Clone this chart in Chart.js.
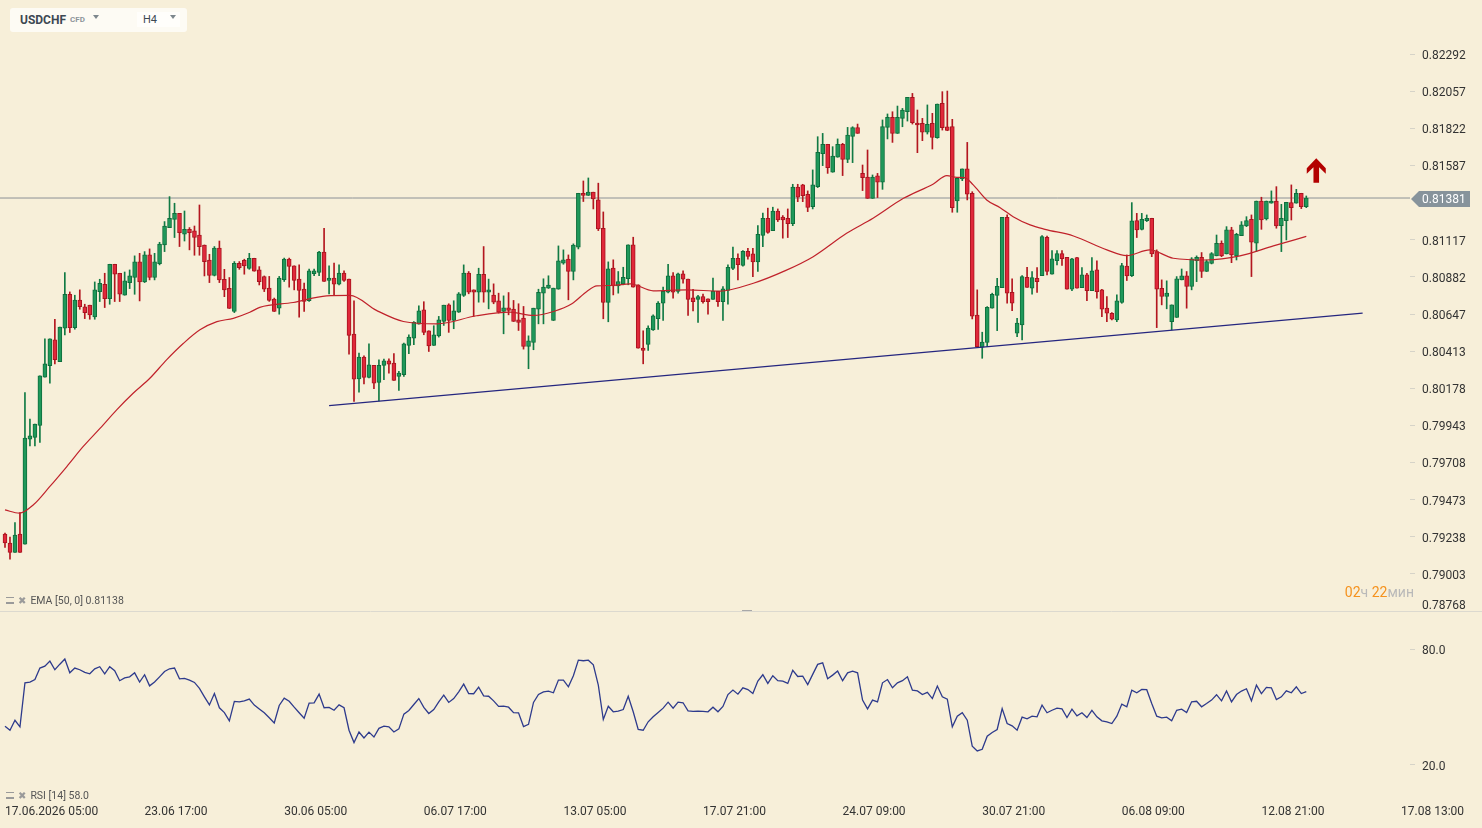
<!DOCTYPE html>
<html>
<head>
<meta charset="utf-8">
<title>USDCHF H4</title>
<script src="https://cdn.jsdelivr.net/npm/chart.js@4.4.1/dist/chart.umd.min.js"></script>
<style>
  html, body { margin: 0; padding: 0; background: #f7efd9; }
  #wrap { position: relative; width: 1482px; height: 828px; overflow: hidden; font-family: Roboto, "Noto Sans", sans-serif; }
  #chart { position: absolute; left: 0; top: 0; }
  .symbox { position: absolute; left: 10px; top: 8px; width: 177px; height: 24px; background: #fdfbf4; border-radius: 3px; }
  .sym { position: absolute; left: 10px; top: 4px; font-size: 12px; font-weight: 700; color: #3d4852; line-height: 16px; }
  .cfd { position: absolute; left: 60px; top: 7px; font-size: 8px; font-weight: 700; color: #8d959b; line-height: 10px; }
  .tri { position: absolute; width: 0; height: 0; border-left: 3.5px solid transparent; border-right: 3.5px solid transparent; border-top: 4px solid #7d878d; }
  .tf { position: absolute; left: 127px; top: 4px; width: 43px; height: 15px; background: #fffefb; }
  .tf span { position: absolute; left: 6px; top: 1px; font-size: 11px; color: #3d4852; line-height: 14px; }
  .leg { position: absolute; left: 6px; height: 12px; display: flex; align-items: center; font-size: 10.5px; color: #555; }
  .ico { display: inline-block; width: 8px; height: 4px; border-top: 1px solid #9a9a9a; border-bottom: 2px solid #9a9a9a; margin-right: 4px; }
  .cls { font-family: "DejaVu Sans", sans-serif; font-size: 10px; color: #9a9a9a; margin-right: 4px; }
  .timer { position: absolute; right: 68px; top: 584px; font-size: 14px; line-height: 16px; }
  .timer .n { color: #f5921e; }
  .timer .u { color: #b9b9b9; }
</style>
</head>
<body>
<div id="wrap">
  <canvas id="chart" width="1482" height="828"></canvas>
  <div class="symbox">
    <span class="sym">USDCHF</span><span class="cfd">CFD</span>
    <span class="tri" style="left:83px;top:7px"></span>
    <div class="tf"><span>H4</span></div>
    <span class="tri" style="left:160px;top:7px"></span>
  </div>
  <div class="leg" id="legEma" style="top:594px"></div>
  <div class="leg" id="legRsi" style="top:789px"></div>
  <div class="timer"><span class="n">02</span><span class="u">ч </span><span class="n">22</span><span class="u">мин</span></div>
</div>
<script>
// H4 candles, index 0 = 17.06.2026 05:00
const opens = [
  0.79254, 0.79198, 0.79139, 0.79254, 0.79191, 0.79855, 0.79866, 0.79942, 0.80247, 0.80321,
  0.80483, 0.80346, 0.80557, 0.80772, 0.80561, 0.80736, 0.80692, 0.80703, 0.80629, 0.80789,
  0.80835, 0.80745, 0.80962, 0.80905, 0.80766, 0.80846, 0.80878, 0.80977, 0.80850, 0.81021,
  0.80878, 0.80966, 0.81084, 0.81194, 0.81246, 0.81284, 0.81152, 0.81183, 0.81173, 0.81147,
  0.81084, 0.80989, 0.80892, 0.81065, 0.80867, 0.80810, 0.80663, 0.80968, 0.80987, 0.80935,
  0.81000, 0.80926, 0.80884, 0.80811, 0.80741, 0.80684, 0.80864, 0.80994, 0.80952, 0.80868,
  0.80805, 0.80731, 0.80902, 0.80910, 0.81039, 0.80860, 0.80874, 0.80836, 0.80906, 0.80868,
  0.80520, 0.80237, 0.80374, 0.80246, 0.80322, 0.80214, 0.80322, 0.80351, 0.80337, 0.80252,
  0.80263, 0.80448, 0.80495, 0.80583, 0.80674, 0.80541, 0.80448, 0.80509, 0.80600, 0.80705,
  0.80606, 0.80659, 0.80765, 0.80906, 0.80800, 0.80786, 0.80899, 0.80786, 0.80767, 0.80731,
  0.80663, 0.80687, 0.80678, 0.80611, 0.80621, 0.80442, 0.80467, 0.80678, 0.80779, 0.80811,
  0.80606, 0.80804, 0.80969, 0.80994, 0.80916, 0.81070, 0.81411, 0.81397, 0.81418, 0.81369,
  0.81190, 0.80720, 0.80937, 0.80825, 0.80838, 0.80870, 0.81085, 0.80832, 0.80431, 0.80454,
  0.80547, 0.80617, 0.80716, 0.80785, 0.80889, 0.80790, 0.80901, 0.80868, 0.80750, 0.80739,
  0.80758, 0.80743, 0.80739, 0.80790, 0.80726, 0.80796, 0.80935, 0.81000, 0.80954, 0.81043,
  0.81028, 0.80977, 0.81144, 0.81253, 0.81175, 0.81298, 0.81260, 0.81253, 0.81219, 0.81451,
  0.81464, 0.81405, 0.81327, 0.81453, 0.81662, 0.81721, 0.81544, 0.81639, 0.81721, 0.81626,
  0.81771, 0.81826, 0.81537, 0.81514, 0.81379, 0.81521, 0.81481, 0.81828, 0.81891, 0.81790,
  0.81885, 0.81927, 0.82018, 0.81856, 0.81854, 0.81797, 0.81854, 0.81763, 0.81980, 0.81832,
  0.81833, 0.81362, 0.81502, 0.81565, 0.81411, 0.80641, 0.80437, 0.80467, 0.80684, 0.80764,
  0.80814, 0.81259, 0.80785, 0.80526, 0.80578, 0.80880, 0.80810, 0.80873, 0.80890, 0.81133,
  0.80899, 0.80985, 0.81030, 0.81006, 0.80804, 0.81004, 0.80814, 0.80895, 0.80795, 0.80926,
  0.80800, 0.80684, 0.80652, 0.80610, 0.80720, 0.80951, 0.80890, 0.81238, 0.81183, 0.81238,
  0.81253, 0.81042, 0.80810, 0.80758, 0.80599, 0.80625, 0.80863, 0.80888, 0.80821, 0.80985,
  0.81006, 0.80916, 0.80968, 0.81015, 0.81095, 0.81027, 0.81179, 0.81015, 0.81143, 0.81204,
  0.81247, 0.81095, 0.81362, 0.81249, 0.81348, 0.81362, 0.81206, 0.81238, 0.81352, 0.81348,
  0.81411, 0.81327
];
const highs = [
  0.79261, 0.79236, 0.79328, 0.79391, 0.80150, 0.79982, 0.79950, 0.80256, 0.80490, 0.80490,
  0.80614, 0.80564, 0.80909, 0.80787, 0.80766, 0.80800, 0.80709, 0.80703, 0.80850, 0.80867,
  0.80905, 0.80962, 0.80962, 0.80905, 0.80913, 0.80926, 0.81015, 0.81031, 0.81042, 0.81059,
  0.81031, 0.81101, 0.81232, 0.81390, 0.81348, 0.81284, 0.81299, 0.81194, 0.81204, 0.81337,
  0.81084, 0.81025, 0.81074, 0.81109, 0.80930, 0.80878, 0.80979, 0.80979, 0.80994, 0.81031,
  0.81000, 0.80947, 0.80888, 0.80885, 0.80748, 0.80885, 0.81001, 0.81001, 0.80952, 0.80958,
  0.80843, 0.80931, 0.80931, 0.81043, 0.81190, 0.80952, 0.80969, 0.80958, 0.80921, 0.80868,
  0.80731, 0.80400, 0.80383, 0.80459, 0.80322, 0.80358, 0.80362, 0.80364, 0.80396, 0.80284,
  0.80463, 0.80516, 0.80600, 0.80699, 0.80725, 0.80541, 0.80573, 0.80632, 0.80703, 0.80712,
  0.80731, 0.80783, 0.80958, 0.80916, 0.80800, 0.80937, 0.81074, 0.80868, 0.80838, 0.80779,
  0.80762, 0.80783, 0.80733, 0.80712, 0.80695, 0.80509, 0.80684, 0.80804, 0.80870, 0.80889,
  0.80811, 0.81078, 0.81053, 0.81021, 0.81091, 0.81411, 0.81489, 0.81508, 0.81418, 0.81475,
  0.81293, 0.80977, 0.80990, 0.80916, 0.80943, 0.81085, 0.81133, 0.80832, 0.80541, 0.80572,
  0.80642, 0.80726, 0.80817, 0.80962, 0.80910, 0.80906, 0.80920, 0.80868, 0.80804, 0.80766,
  0.80773, 0.80743, 0.80874, 0.80790, 0.80821, 0.80958, 0.81070, 0.81028, 0.81049, 0.81063,
  0.81063, 0.81207, 0.81285, 0.81317, 0.81323, 0.81312, 0.81270, 0.81312, 0.81468, 0.81468,
  0.81468, 0.81426, 0.81559, 0.81769, 0.81790, 0.81721, 0.81706, 0.81755, 0.81727, 0.81828,
  0.81832, 0.81849, 0.81590, 0.81685, 0.81527, 0.81537, 0.81875, 0.81913, 0.81927, 0.81963,
  0.81948, 0.82018, 0.82043, 0.81938, 0.81885, 0.81970, 0.81917, 0.81976, 0.82054, 0.82058,
  0.81879, 0.81510, 0.81565, 0.81733, 0.81421, 0.80800, 0.80532, 0.80694, 0.80779, 0.80873,
  0.81259, 0.81274, 0.80869, 0.80620, 0.80890, 0.80943, 0.80916, 0.80941, 0.81143, 0.81141,
  0.81049, 0.81049, 0.81049, 0.81006, 0.81000, 0.81006, 0.80941, 0.80905, 0.81004, 0.80983,
  0.80804, 0.80758, 0.80656, 0.80768, 0.80968, 0.81021, 0.81352, 0.81284, 0.81284, 0.81274,
  0.81253, 0.81053, 0.80863, 0.80857, 0.80705, 0.80884, 0.80932, 0.80916, 0.81004, 0.81015,
  0.81036, 0.80989, 0.81036, 0.81147, 0.81110, 0.81200, 0.81196, 0.81158, 0.81232, 0.81263,
  0.81274, 0.81362, 0.81386, 0.81362, 0.81426, 0.81453, 0.81341, 0.81354, 0.81464, 0.81436,
  0.81411, 0.81394
];
const lows = [
  0.79170, 0.79096, 0.79139, 0.79139, 0.79191, 0.79813, 0.79813, 0.79834, 0.80247, 0.80209,
  0.80332, 0.80346, 0.80515, 0.80530, 0.80551, 0.80677, 0.80618, 0.80614, 0.80614, 0.80726,
  0.80688, 0.80709, 0.80726, 0.80726, 0.80766, 0.80808, 0.80772, 0.80730, 0.80846, 0.80863,
  0.80863, 0.80958, 0.81042, 0.81194, 0.81131, 0.81074, 0.81109, 0.81053, 0.81019, 0.81019,
  0.80888, 0.80846, 0.80888, 0.80846, 0.80757, 0.80682, 0.80656, 0.80930, 0.80899, 0.80930,
  0.80918, 0.80831, 0.80789, 0.80727, 0.80663, 0.80646, 0.80853, 0.80817, 0.80800, 0.80627,
  0.80663, 0.80727, 0.80889, 0.80889, 0.80853, 0.80775, 0.80769, 0.80832, 0.80853, 0.80393,
  0.80094, 0.80153, 0.80205, 0.80242, 0.80174, 0.80098, 0.80231, 0.80273, 0.80227, 0.80164,
  0.80252, 0.80396, 0.80453, 0.80583, 0.80516, 0.80410, 0.80448, 0.80501, 0.80575, 0.80531,
  0.80554, 0.80657, 0.80758, 0.80775, 0.80632, 0.80722, 0.80722, 0.80680, 0.80712, 0.80653,
  0.80522, 0.80642, 0.80600, 0.80543, 0.80425, 0.80301, 0.80421, 0.80585, 0.80585, 0.80809,
  0.80606, 0.80804, 0.80962, 0.80737, 0.80863, 0.81059, 0.81359, 0.81397, 0.81312, 0.81175,
  0.80617, 0.80598, 0.80768, 0.80779, 0.80832, 0.80832, 0.80817, 0.80431, 0.80332, 0.80416,
  0.80543, 0.80549, 0.80606, 0.80781, 0.80747, 0.80779, 0.80842, 0.80638, 0.80667, 0.80594,
  0.80716, 0.80646, 0.80739, 0.80695, 0.80606, 0.80709, 0.80927, 0.80863, 0.80950, 0.80994,
  0.80884, 0.80916, 0.81074, 0.81158, 0.81175, 0.81232, 0.81127, 0.81131, 0.81206, 0.81358,
  0.81358, 0.81295, 0.81312, 0.81447, 0.81586, 0.81537, 0.81544, 0.81639, 0.81523, 0.81605,
  0.81605, 0.81790, 0.81428, 0.81379, 0.81379, 0.81384, 0.81436, 0.81755, 0.81733, 0.81790,
  0.81832, 0.81868, 0.81849, 0.81668, 0.81744, 0.81786, 0.81691, 0.81759, 0.81811, 0.81807,
  0.81291, 0.81291, 0.81491, 0.81369, 0.80616, 0.80441, 0.80367, 0.80441, 0.80684, 0.80542,
  0.80814, 0.80715, 0.80669, 0.80504, 0.80483, 0.80816, 0.80772, 0.80783, 0.80890, 0.80895,
  0.80899, 0.80958, 0.80954, 0.80804, 0.80795, 0.80810, 0.80814, 0.80732, 0.80795, 0.80747,
  0.80631, 0.80599, 0.80610, 0.80599, 0.80715, 0.80859, 0.80884, 0.81131, 0.81179, 0.81232,
  0.81010, 0.80561, 0.80705, 0.80680, 0.80547, 0.80625, 0.80863, 0.80684, 0.80800, 0.80852,
  0.80878, 0.80916, 0.80964, 0.81015, 0.81010, 0.81027, 0.80972, 0.80989, 0.81143, 0.81200,
  0.80884, 0.81042, 0.81183, 0.81242, 0.81348, 0.81190, 0.81042, 0.81116, 0.81242, 0.81348,
  0.81314, 0.81320
];
const closes = [
  0.79198, 0.79139, 0.79248, 0.79139, 0.79862, 0.79876, 0.79950, 0.80256, 0.80332, 0.80490,
  0.80359, 0.80564, 0.80772, 0.80561, 0.80736, 0.80694, 0.80656, 0.80641, 0.80800, 0.80842,
  0.80745, 0.80962, 0.80899, 0.80772, 0.80857, 0.80888, 0.80977, 0.80850, 0.81021, 0.80878,
  0.80977, 0.81090, 0.81204, 0.81253, 0.81284, 0.81162, 0.81183, 0.81162, 0.81131, 0.81074,
  0.80979, 0.80892, 0.81065, 0.80863, 0.80800, 0.80682, 0.80968, 0.80941, 0.80951, 0.81000,
  0.80918, 0.80852, 0.80804, 0.80733, 0.80663, 0.80874, 0.80994, 0.80948, 0.80860, 0.80796,
  0.80727, 0.80921, 0.80921, 0.81039, 0.80853, 0.80874, 0.80836, 0.80906, 0.80860, 0.80512,
  0.80235, 0.80374, 0.80246, 0.80326, 0.80210, 0.80322, 0.80351, 0.80330, 0.80227, 0.80273,
  0.80459, 0.80501, 0.80594, 0.80668, 0.80531, 0.80446, 0.80516, 0.80611, 0.80703, 0.80606,
  0.80668, 0.80775, 0.80906, 0.80786, 0.80786, 0.80899, 0.80786, 0.80800, 0.80722, 0.80659,
  0.80687, 0.80670, 0.80600, 0.80594, 0.80442, 0.80478, 0.80684, 0.80785, 0.80817, 0.80830,
  0.80811, 0.80984, 0.80990, 0.80916, 0.81083, 0.81411, 0.81397, 0.81418, 0.81376, 0.81186,
  0.80720, 0.80933, 0.80825, 0.80853, 0.80880, 0.81085, 0.80817, 0.80431, 0.80416, 0.80558,
  0.80636, 0.80716, 0.80790, 0.80889, 0.80785, 0.80901, 0.80868, 0.80739, 0.80726, 0.80758,
  0.80726, 0.80726, 0.80792, 0.80726, 0.80807, 0.80943, 0.81000, 0.80960, 0.81043, 0.81011,
  0.80977, 0.81152, 0.81253, 0.81163, 0.81298, 0.81243, 0.81243, 0.81219, 0.81451, 0.81386,
  0.81396, 0.81322, 0.81464, 0.81670, 0.81721, 0.81573, 0.81647, 0.81721, 0.81626, 0.81780,
  0.81826, 0.81790, 0.81510, 0.81379, 0.81514, 0.81481, 0.81833, 0.81891, 0.81790, 0.81891,
  0.81938, 0.82018, 0.81858, 0.81843, 0.81797, 0.81847, 0.81765, 0.81976, 0.81826, 0.81809,
  0.81320, 0.81506, 0.81565, 0.81405, 0.80633, 0.80441, 0.80469, 0.80690, 0.80772, 0.80823,
  0.81259, 0.80779, 0.80715, 0.80589, 0.80884, 0.80816, 0.80878, 0.80852, 0.81137, 0.80916,
  0.80996, 0.81030, 0.80998, 0.80804, 0.80996, 0.80810, 0.80895, 0.80795, 0.80920, 0.80789,
  0.80677, 0.80652, 0.80614, 0.80730, 0.80954, 0.80888, 0.81236, 0.81179, 0.81247, 0.81253,
  0.81027, 0.80804, 0.80758, 0.80779, 0.80705, 0.80869, 0.80888, 0.80821, 0.80996, 0.81006,
  0.80916, 0.80979, 0.81030, 0.81095, 0.81015, 0.81179, 0.81021, 0.81152, 0.81211, 0.81238,
  0.81101, 0.81362, 0.81242, 0.81362, 0.81362, 0.81204, 0.81253, 0.81354, 0.81320, 0.81411,
  0.81327, 0.81381
];

// EMA(50) at sparse candle positions
const emaX = [0, 2.9, 5.7, 9.0, 12.4, 15.7, 19.1, 22.4, 25.7, 29.1, 32.4, 35.8, 39.1, 42.5, 45.8, 49.1,
  51.1, 57.8, 64.5, 69.2, 74.5, 79.9, 86.6, 94.6, 101.3, 106, 110, 113.7, 116.7, 118.7, 122, 125.4,
  130, 136.7, 143.4, 150.1, 156.4, 162.1, 168.8, 174.1, 180.2, 186.2, 188.9, 190.9, 192.5, 194.2,
  196.9, 199.6, 202.2, 205.6, 208.6, 214.3, 221, 225, 229.6, 234.3, 241, 247.7, 254.4, 261];
const emaY = [0.79408, 0.79387, 0.79440, 0.79556, 0.79682, 0.79809, 0.79925, 0.80041, 0.80146, 0.80242,
  0.80357, 0.80462, 0.80547, 0.80599, 0.80620, 0.80658, 0.80689, 0.80720, 0.80762, 0.80765, 0.80670,
  0.80600, 0.80585, 0.80636, 0.80659, 0.80638, 0.80663, 0.80712, 0.80790, 0.80825, 0.80828, 0.80838,
  0.80794, 0.80800, 0.80792, 0.80842, 0.80920, 0.81010, 0.81158, 0.81253, 0.81379, 0.81470, 0.81523,
  0.81512, 0.81510, 0.81464, 0.81369, 0.81320, 0.81263, 0.81211, 0.81183, 0.81141, 0.81053, 0.81017,
  0.81053, 0.81000, 0.80989, 0.81015, 0.81078, 0.81138];

// RSI(14), one value per candle
const rsiValues = [
  40.0, 37.9, 43.1, 39.7, 62.6, 63.0, 64.3, 70.3, 71.3, 73.9,
  69.4, 72.3, 75.0, 67.8, 70.3, 69.4, 68.0, 67.3, 69.9, 71.0,
  67.3, 71.0, 68.9, 63.7, 65.2, 65.7, 67.8, 63.0, 66.8, 61.0,
  63.0, 65.7, 68.5, 69.9, 70.3, 64.7, 64.9, 64.0, 62.8, 59.7,
  55.3, 51.1, 57.0, 49.6, 47.1, 42.8, 52.9, 52.7, 53.2, 54.1,
  51.0, 49.0, 47.0, 44.4, 41.7, 50.8, 54.6, 53.0, 49.9, 47.0,
  44.2, 52.0, 52.2, 56.7, 49.6, 49.8, 48.3, 51.1, 49.6, 37.9,
  31.5, 37.0, 33.9, 36.9, 34.4, 38.9, 40.0, 39.7, 37.0, 38.6,
  46.3, 48.2, 51.3, 54.4, 49.8, 46.6, 48.7, 52.7, 56.2, 52.4,
  54.4, 57.9, 61.9, 57.0, 56.9, 60.3, 55.8, 55.6, 53.2, 50.3,
  50.4, 49.9, 47.1, 47.0, 39.8, 41.0, 52.4, 56.5, 57.9, 58.3,
  57.4, 64.0, 64.0, 60.5, 66.3, 74.4, 74.1, 74.4, 72.0, 61.4,
  43.5, 50.4, 47.5, 47.8, 48.7, 55.6, 47.5, 38.3, 37.9, 42.3,
  44.9, 47.1, 49.4, 52.5, 49.4, 52.5, 52.2, 48.0, 47.7, 47.8,
  47.7, 47.5, 49.9, 47.5, 50.3, 56.5, 58.8, 56.7, 60.0, 59.1,
  57.0, 63.5, 66.8, 62.3, 66.3, 63.7, 63.5, 62.3, 69.1, 65.9,
  66.1, 61.7, 67.0, 72.2, 73.0, 64.7, 66.6, 68.7, 63.7, 67.8,
  68.7, 67.8, 53.6, 49.0, 53.6, 52.7, 62.6, 64.3, 60.0, 62.6,
  63.7, 65.7, 58.8, 58.4, 56.5, 57.6, 54.4, 60.9, 55.3, 54.1,
  39.7, 45.2, 47.0, 43.1, 29.6, 27.1, 28.0, 34.8, 36.7, 38.3,
  49.2, 41.4, 40.2, 37.9, 44.7, 43.8, 45.2, 44.9, 51.0, 47.0,
  48.3, 49.4, 49.0, 44.5, 48.9, 45.4, 47.0, 44.5, 48.3, 44.9,
  42.8, 42.3, 41.4, 45.2, 51.5, 50.1, 58.8, 57.4, 59.1, 59.0,
  51.8, 45.2, 44.3, 44.7, 42.8, 48.3, 48.9, 47.1, 52.7, 53.0,
  50.1, 51.8, 53.6, 56.4, 53.2, 58.3, 52.7, 56.5, 58.3, 59.5,
  53.2, 61.4, 57.0, 60.2, 60.0, 53.9, 55.3, 58.4, 57.4, 60.5,
  57.0, 58.0
];

// support trend line (candle index, price)
const trendX = [65.0, 272.3];
const trendY = [0.80067, 0.80653];

const lastPrice = 0.81381;
const signalIndex = 263;      // red "buy" arrow
const signalPrice = 0.81632;

// axis ticks and labels
const priceTicks = [0.82292, 0.82057, 0.81822, 0.81587, 0.81117, 0.80882, 0.80647, 0.80413,
  0.80178, 0.79943, 0.79708, 0.79473, 0.79238, 0.79003, 0.78768]; // 0.81352 sits under the price tag
const rsiTicks = [80, 20];
const dateTicks = [0, 28, 56, 84, 112, 140, 168, 196, 224, 252, 280];
const dateLabels = ['17.06.2026 05:00', '23.06 17:00', '30.06 05:00', '06.07 17:00', '13.07 05:00',
  '17.07 21:00', '24.07 09:00', '30.07 21:00', '06.08 09:00', '12.08 21:00', '17.08 13:00'];

const X_MIN = -1.003, X_MAX = 281.8;
const PRICE_MIN = 0.78768, PRICE_MAX = 0.82634;

const UP = '#1f985a', UP_EDGE = '#0e6e3c', UP_WICK = '#117a44';
const DN = '#e0283a', DN_EDGE = '#a8141f', DN_WICK = '#b3161f';

const isUp = i => closes[i] >= opens[i];
const idx = closes.map((_, i) => i);

document.getElementById('legEma').innerHTML =
  '<span class="ico"></span><span class="cls">✖</span><span>EMA [50, 0] ' + emaY[emaY.length - 1].toFixed(5) + '</span>';
document.getElementById('legRsi').innerHTML =
  '<span class="ico"></span><span class="cls">✖</span><span>RSI [14] ' + rsiValues[rsiValues.length - 1].toFixed(1) + '</span>';

const overlay = {
  id: 'overlay',
  afterDraw(chart) {
    const { ctx } = chart;
    const { x, y, rsi } = chart.scales;
    ctx.save();

    // pane separator + drag handle
    const sep = Math.round(rsi.top) + 0.5;
    ctx.strokeStyle = '#dcd9cf';
    ctx.lineWidth = 1;
    ctx.beginPath();
    ctx.moveTo(0, sep);
    ctx.lineTo(chart.width, sep);
    ctx.stroke();
    ctx.fillStyle = '#a8a8a8';
    ctx.fillRect(chart.width / 2 + 1, sep - 1.5, 10, 1);

    // current price tag
    const py = y.getPixelForValue(lastPrice) + 1;
    const tx = y.left + 1;
    ctx.fillStyle = '#87939b';
    ctx.beginPath();
    ctx.moveTo(tx, py);
    ctx.lineTo(tx + 8, py - 8);
    ctx.lineTo(tx + 59, py - 8);
    ctx.lineTo(tx + 59, py + 8);
    ctx.lineTo(tx + 8, py + 8);
    ctx.closePath();
    ctx.fill();
    ctx.fillStyle = '#ffffff';
    ctx.font = '12px Roboto, sans-serif';
    ctx.textBaseline = 'middle';
    ctx.textAlign = 'left';
    ctx.fillText(lastPrice.toFixed(5), tx + 11, py + 0.5);

    // signal arrow
    const ax = x.getPixelForValue(signalIndex);
    const ay = y.getPixelForValue(signalPrice);
    ctx.fillStyle = '#b30000';
    ctx.beginPath();
    ctx.moveTo(ax, ay);
    ctx.lineTo(ax + 9.5, ay + 10);
    ctx.lineTo(ax + 9.5, ay + 15.5);
    ctx.lineTo(ax + 2.8, ay + 9);
    ctx.lineTo(ax + 2.8, ay + 24.5);
    ctx.lineTo(ax - 2.8, ay + 24.5);
    ctx.lineTo(ax - 2.8, ay + 9);
    ctx.lineTo(ax - 9.5, ay + 15.5);
    ctx.lineTo(ax - 9.5, ay + 10);
    ctx.closePath();
    ctx.fill();

    ctx.restore();
  }
};

Chart.defaults.font.family = 'Roboto, "Noto Sans", sans-serif';
Chart.defaults.font.size = 12;
Chart.defaults.color = '#3a3a3a';

const noPad = s => { s.paddingTop = 0; s.paddingBottom = 0; s.paddingLeft = 0; s.paddingRight = 0; };

new Chart(document.getElementById('chart'), {
  type: 'bar',
  data: {
    datasets: [
      {
        type: 'line',
        label: 'trend',
        data: trendX.map((v, k) => ({ x: v, y: trendY[k] })),
        yAxisID: 'y',
        borderColor: '#25267f',
        borderWidth: 1.3,
        pointRadius: 0,
        order: 1
      },
      {
        type: 'line',
        label: 'EMA 50',
        data: emaX.map((v, k) => ({ x: v, y: emaY[k] })),
        yAxisID: 'y',
        borderColor: '#c0222b',
        borderWidth: 1.2,
        pointRadius: 0,
        cubicInterpolationMode: 'monotone',
        order: 2
      },
      {
        label: 'body',
        data: idx.map(i => ({ x: i, y: [opens[i], closes[i]] })),
        yAxisID: 'y',
        grouped: false,
        barThickness: 4,
        maxBarThickness: 4,
        minBarLength: 1,
        borderWidth: 1,
        borderSkipped: false,
        backgroundColor: c => isUp(c.dataIndex) ? UP : DN,
        borderColor: c => isUp(c.dataIndex) ? UP_EDGE : DN_EDGE,
        order: 3
      },
      {
        label: 'wick',
        data: idx.map(i => ({ x: i, y: [lows[i], highs[i]] })),
        yAxisID: 'y',
        grouped: false,
        barThickness: 1,
        maxBarThickness: 1,
        borderWidth: 0,
        backgroundColor: c => isUp(c.dataIndex) ? UP_WICK : DN_WICK,
        order: 4
      },
      {
        type: 'line',
        label: 'price',
        data: [{ x: X_MIN, y: lastPrice }, { x: X_MAX, y: lastPrice }],
        yAxisID: 'y',
        borderColor: '#8c9196',
        borderWidth: 1,
        pointRadius: 0,
        order: 5
      },
      {
        type: 'line',
        label: 'RSI 14',
        data: idx.map(i => ({ x: i, y: rsiValues[i] })),
        yAxisID: 'rsi',
        borderColor: '#2d3a8c',
        borderWidth: 1.3,
        pointRadius: 0,
        order: 1
      }
    ]
  },
  options: {
    responsive: false,
    animation: false,
    events: [],
    layout: { padding: 0 },
    plugins: { legend: { display: false }, tooltip: { enabled: false } },
    scales: {
      x: {
        type: 'linear',
        min: X_MIN,
        max: X_MAX,
        offset: false,
        afterBuildTicks: s => { s.ticks = dateTicks.map(v => ({ value: v })); },
        afterFit: s => { s.height = 25; noPad(s); },
        ticks: {
          callback: (v, k) => dateLabels[k],
          align: 'start',
          autoSkip: false,
          maxRotation: 0,
          padding: 2,
          color: '#333'
        },
        grid: { display: false, drawTicks: false },
        border: { display: false }
      },
      y: {
        type: 'linear',
        position: 'right',
        stack: 'panes',
        stackWeight: 611,
        weight: 0,
        min: PRICE_MIN,
        max: PRICE_MAX,
        afterBuildTicks: s => { s.ticks = priceTicks.map(v => ({ value: v })); },
        afterFit: s => { s.width = 72; noPad(s); },
        // the bottom label is lifted into the pane (empty second line), as on the platform
        ticks: { callback: v => v === PRICE_MIN ? [v.toFixed(5), ''] : v.toFixed(5), padding: 7, labelOffset: 2, autoSkip: false, color: '#333' },
        grid: { drawOnChartArea: false, drawTicks: true, tickLength: 5, tickColor: '#d6d3c8' },
        border: { display: false }
      },
      rsi: {
        type: 'linear',
        position: 'right',
        stack: 'panes',
        stackWeight: 192,
        weight: 1,
        min: 0,
        max: 100,
        afterBuildTicks: s => { s.ticks = rsiTicks.map(v => ({ value: v })); },
        afterFit: s => { s.width = 72; noPad(s); },
        ticks: { callback: v => v.toFixed(1), padding: 7, labelOffset: 2, autoSkip: false, color: '#333' },
        grid: { drawOnChartArea: false, drawTicks: true, tickLength: 5, tickColor: '#d6d3c8' },
        border: { display: false }
      }
    }
  },
  plugins: [overlay]
});
</script>
</body>
</html>
